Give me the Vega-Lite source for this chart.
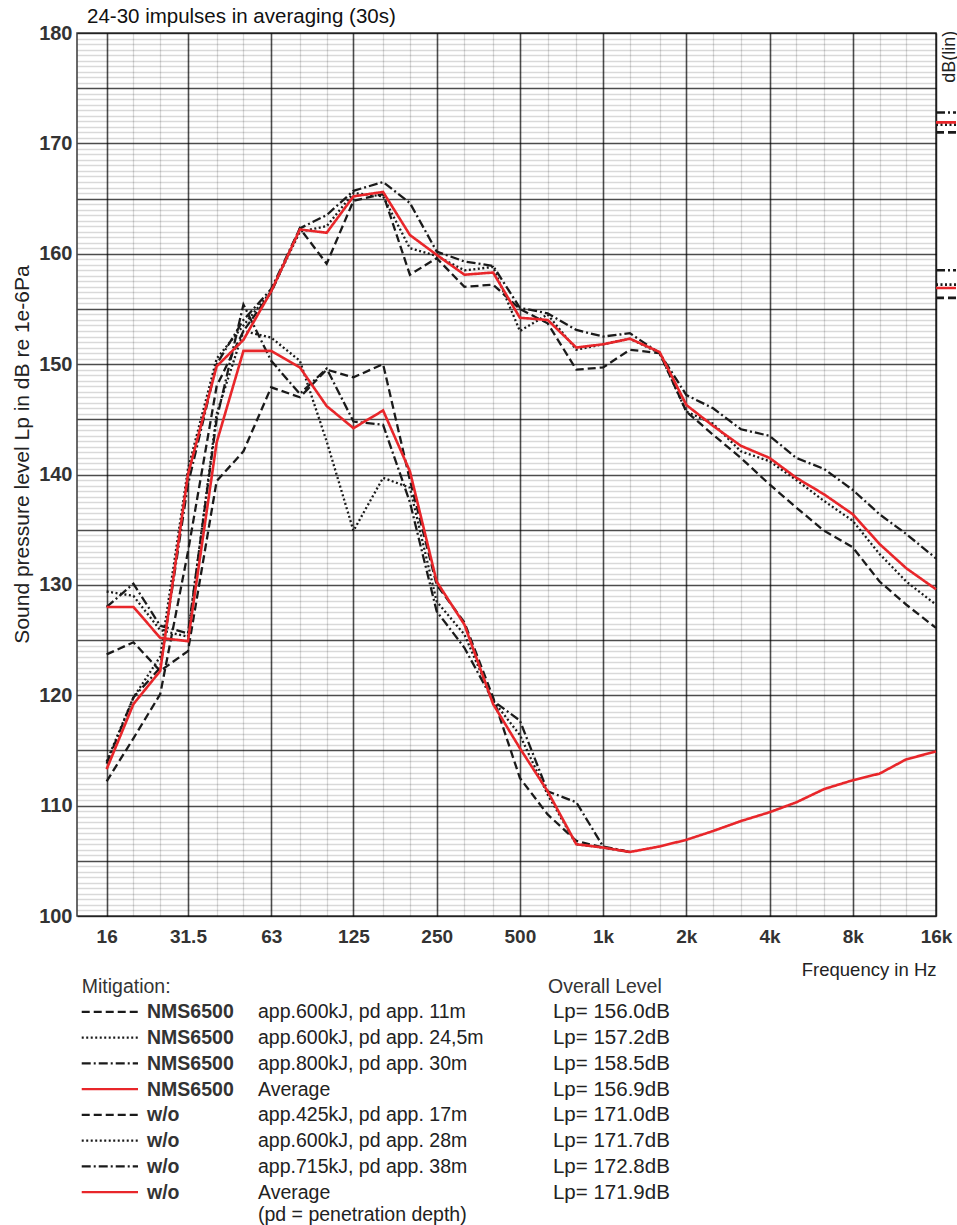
{
  "$schema": "https://vega.github.io/schema/vega-lite/v6.json",
  "background": "white",
  "padding": {"left": 10, "top": 5, "right": 0, "bottom": 0},
  "bounds": "flush",
  "spacing": 70,
  "config": {"font": "Liberation Sans", "view": {"stroke": null}},
  "datasets": {
    "curves": [
      {"f": 16, "N11": 123.7, "N245": 129.4, "N30": 128.0, "NAVG": 128.0, "W17": 112.2, "W28": 114.0, "W38": 113.8, "WAVG": 113.3},
      {"f": 20, "N11": 124.8, "N245": 129.0, "N30": 130.1, "NAVG": 128.0, "W17": 116.1, "W28": 119.8, "W38": 119.8, "WAVG": 119.2},
      {"f": 25, "N11": 122.2, "N245": 125.9, "N30": 126.3, "NAVG": 125.2, "W17": 120.1, "W28": 123.5, "W38": 122.5, "WAVG": 122.2},
      {"f": 31.5, "N11": 124.0, "N245": 125.3, "N30": 125.6, "NAVG": 124.9, "W17": 133.0, "W28": 140.5, "W38": 139.1, "WAVG": 140.0},
      {"f": 40, "N11": 139.4, "N245": 145.5, "N30": 145.0, "NAVG": 142.9, "W17": 148.0, "W28": 150.5, "W38": 150.0, "WAVG": 149.8},
      {"f": 50, "N11": 142.1, "N245": 153.0, "N30": 155.4, "NAVG": 151.2, "W17": 153.0, "W28": 153.5, "W38": 154.0, "WAVG": 152.2},
      {"f": 63, "N11": 147.9, "N245": 152.4, "N30": 150.3, "NAVG": 151.2, "W17": 156.5, "W28": 156.6, "W38": 156.8, "WAVG": 156.6},
      {"f": 80, "N11": 147.0, "N245": 150.3, "N30": 147.3, "NAVG": 149.7, "W17": 162.3, "W28": 162.0, "W38": 162.3, "WAVG": 162.2},
      {"f": 100, "N11": 149.5, "N245": 143.0, "N30": 149.6, "NAVG": 146.2, "W17": 159.1, "W28": 162.5, "W38": 163.5, "WAVG": 161.9},
      {"f": 125, "N11": 148.8, "N245": 134.9, "N30": 144.8, "NAVG": 144.2, "W17": 164.8, "W28": 165.5, "W38": 165.7, "WAVG": 165.2},
      {"f": 160, "N11": 150.0, "N245": 139.7, "N30": 144.5, "NAVG": 145.8, "W17": 165.4, "W28": 165.2, "W38": 166.5, "WAVG": 165.6},
      {"f": 200, "N11": 139.5, "N245": 138.8, "N30": 137.5, "NAVG": 140.3, "W17": 158.1, "W28": 160.5, "W38": 164.6, "WAVG": 161.7},
      {"f": 250, "N11": 130.0, "N245": 128.5, "N30": 127.6, "NAVG": 130.3, "W17": 159.6, "W28": 159.8, "W38": 160.2, "WAVG": 159.9},
      {"f": 315, "N11": 126.6, "N245": 125.5, "N30": 124.3, "NAVG": 126.4, "W17": 157.0, "W28": 158.5, "W38": 159.3, "WAVG": 158.1},
      {"f": 400, "N11": 119.8, "N245": 119.5, "N30": 119.5, "NAVG": 119.2, "W17": 157.2, "W28": 158.8, "W38": 158.9, "WAVG": 158.3},
      {"f": 500, "N11": 112.5, "N245": 116.4, "N30": 117.7, "NAVG": 115.2, "W17": 155.0, "W28": 153.0, "W38": 155.1, "WAVG": 154.2},
      {"f": 630, "N11": 109.2, "N245": 111.0, "N30": 111.3, "NAVG": 111.3, "W17": 153.7, "W28": 154.5, "W38": 154.6, "WAVG": 154.0},
      {"f": 800, "N11": 106.8, "N245": 106.5, "N30": 110.3, "NAVG": 106.5, "W17": 149.5, "W28": 151.3, "W38": 153.1, "WAVG": 151.5},
      {"f": 1000, "N11": 106.2, "N245": 106.2, "N30": 106.3, "NAVG": 106.2, "W17": 149.7, "W28": 151.8, "W38": 152.5, "WAVG": 151.8},
      {"f": 1250, "N11": 105.8, "N245": 105.8, "N30": 105.8, "NAVG": 105.8, "W17": 151.3, "W28": 152.3, "W38": 152.8, "WAVG": 152.3},
      {"f": 1600, "NAVG": 106.3, "W17": 151.0, "W28": 151.0, "W38": 151.0, "WAVG": 151.1},
      {"f": 2000, "NAVG": 106.9, "W17": 145.7, "W28": 145.7, "W38": 147.2, "WAVG": 146.3},
      {"f": 2500, "NAVG": 107.7, "W17": 143.6, "W28": 144.6, "W38": 146.0, "WAVG": 144.4},
      {"f": 3150, "NAVG": 108.6, "W17": 141.5, "W28": 142.1, "W38": 144.1, "WAVG": 142.6},
      {"f": 4000, "NAVG": 109.4, "W17": 139.1, "W28": 141.2, "W38": 143.5, "WAVG": 141.5},
      {"f": 5000, "NAVG": 110.3, "W17": 137.0, "W28": 139.5, "W38": 141.5, "WAVG": 139.7},
      {"f": 6300, "NAVG": 111.5, "W17": 134.9, "W28": 137.6, "W38": 140.5, "WAVG": 138.2},
      {"f": 8000, "NAVG": 112.3, "W17": 133.4, "W28": 135.8, "W38": 138.6, "WAVG": 136.4},
      {"f": 10000, "NAVG": 112.9, "W17": 130.3, "W28": 132.8, "W38": 136.4, "WAVG": 133.7},
      {"f": 12500, "NAVG": 114.2, "W17": 128.2, "W28": 130.3, "W38": 134.6, "WAVG": 131.5},
      {"f": 16000, "NAVG": 114.9, "W17": 126.1, "W28": 128.2, "W38": 132.4, "WAVG": 129.6}
    ],
    "levels": [
      {"series": "N11", "level": 156.0},
      {"series": "N245", "level": 157.2},
      {"series": "N30", "level": 158.5},
      {"series": "NAVG", "level": 156.9},
      {"series": "W17", "level": 171.0},
      {"series": "W28", "level": 171.7},
      {"series": "W38", "level": 172.8},
      {"series": "WAVG", "level": 171.9}
    ],
    "legendRows": [
      {"row": 1, "series": "N11", "group": "NMS6500", "desc": "app.600kJ, pd app. 11m", "lp": "Lp= 156.0dB"},
      {"row": 2, "series": "N245", "group": "NMS6500", "desc": "app.600kJ, pd app. 24,5m", "lp": "Lp= 157.2dB"},
      {"row": 3, "series": "N30", "group": "NMS6500", "desc": "app.800kJ, pd app. 30m", "lp": "Lp= 158.5dB"},
      {"row": 4, "series": "NAVG", "group": "NMS6500", "desc": "Average", "lp": "Lp= 156.9dB"},
      {"row": 5, "series": "W17", "group": "w/o", "desc": "app.425kJ, pd app. 17m", "lp": "Lp= 171.0dB"},
      {"row": 6, "series": "W28", "group": "w/o", "desc": "app.600kJ, pd app. 28m", "lp": "Lp= 171.7dB"},
      {"row": 7, "series": "W38", "group": "w/o", "desc": "app.715kJ, pd app. 38m", "lp": "Lp= 172.8dB"},
      {"row": 8, "series": "WAVG", "group": "w/o", "desc": ["Average", "(pd = penetration depth)"], "lp": "Lp= 171.9dB"}
    ]
  },
  "vconcat": [
    {
      "width": 859,
      "height": 883,
      "view": {"stroke": "#444", "strokeWidth": 1.6},
      "title": {"text": "24-30 impulses in averaging (30s)", "anchor": "start", "frame": "group", "fontSize": 20.5, "fontWeight": "normal", "color": "#111", "dx": 10, "offset": -20, "baseline": "alphabetic"},
      "data": {"name": "curves"},
      "layer": [
        {
          "transform": [{"fold": ["N11", "N245", "N30", "W17", "W28", "W38"], "as": ["series", "L"]}],
          "mark": {"type": "line", "strokeWidth": 2.3},
          "encoding": {
            "x": {
              "field": "f", "type": "quantitative",
              "scale": {"type": "log", "domain": [12.5, 16000], "nice": false},
              "axis": {
                "values": [16, 20, 25, 31.5, 40, 50, 63, 80, 100, 125, 160, 200, 250, 315, 400, 500, 630, 800, 1000, 1250, 1600, 2000, 2500, 3150, 4000, 5000, 6300, 8000, 10000, 12500, 16000],
                "labelExpr": "indexof([16,31.5,63,125,250,500],datum.value) >= 0 ? '' + datum.value : (indexof([1000,2000,4000,8000,16000],datum.value) >= 0 ? (datum.value/1000) + 'k' : '')",
                "labelOverlap": false,
                "labelFlush": false,
                "labelFontSize": 19,
                "labelFontWeight": "bold",
                "labelColor": "#333",
                "labelPadding": 11,
                "ticks": false,
                "domain": false,
                "gridColor": "#000",
                "gridOpacity": {"condition": {"test": "indexof([16,31.5,63,125,250,500,1000,2000,4000,8000,16000],datum.value) >= 0", "value": 0.7}, "value": 0.15},
                "gridWidth": {"condition": {"test": "indexof([16,31.5,63,125,250,500,1000,2000,4000,8000,16000],datum.value) >= 0", "value": 1.6}, "value": 1.3},
                "title": "Frequency in Hz",
                "titleAnchor": "end",
                "titleFontSize": 18.5,
                "titleFontWeight": "normal",
                "titleColor": "#222",
                "titlePadding": 14
              }
            },
            "y": {
              "field": "L", "type": "quantitative",
              "scale": {"domain": [100, 180], "nice": false, "zero": false},
              "axis": {
                "tickCount": 160,
                "labelExpr": "datum.value % 10 === 0 ? '' + datum.value : ''",
                "labelOverlap": false,
                "labelFontSize": 20,
                "labelFontWeight": "bold",
                "labelColor": "#333",
                "labelPadding": 5,
                "ticks": false,
                "domain": false,
                "gridColor": "#000",
                "gridOpacity": {"condition": {"test": "datum.value % 5 === 0", "value": 0.7}, "value": 0.15},
                "gridWidth": {"condition": {"test": "datum.value % 5 === 0", "value": 1.6}, "value": 1.3},
                "title": "Sound pressure level Lp in dB re 1e-6Pa",
                "titleFontSize": 21,
                "titleFontWeight": "normal",
                "titleColor": "#222",
                "titlePadding": 6,
                "titleY": 421
              }
            },
            "color": {"field": "series", "type": "nominal", "legend": null,
              "scale": {"domain": ["N11", "N245", "N30", "NAVG", "W17", "W28", "W38", "WAVG"], "range": ["#1a1a1a", "#1a1a1a", "#1a1a1a", "#e8262a", "#1a1a1a", "#1a1a1a", "#1a1a1a", "#e8262a"]}},
            "strokeDash": {"field": "series", "type": "nominal", "legend": null,
              "scale": {"domain": ["N11", "N245", "N30", "NAVG", "W17", "W28", "W38", "WAVG"], "range": [[8, 4], [2, 2.5], [9, 3, 2, 3], [1, 0], [8, 4], [2, 2.5], [9, 3, 2, 3], [1, 0]]}}
          }
        },
        {
          "transform": [{"fold": ["NAVG", "WAVG"], "as": ["series", "L"]}],
          "mark": {"type": "line", "strokeWidth": 2.6},
          "encoding": {
            "x": {"field": "f", "type": "quantitative"},
            "y": {"field": "L", "type": "quantitative"},
            "color": {"field": "series", "type": "nominal", "legend": null},
            "strokeDash": {"field": "series", "type": "nominal", "legend": null}
          }
        },
        {
          "data": {"name": "levels"},
          "mark": {"type": "rule", "strokeWidth": 2.6},
          "encoding": {
            "x": {"datum": 16000, "type": "quantitative"},
            "x2": {"datum": 18900},
            "y": {"field": "level", "type": "quantitative"},
            "color": {"field": "series", "type": "nominal", "legend": null},
            "strokeDash": {"field": "series", "type": "nominal", "legend": null}
          }
        },
        {
          "data": {"values": [{"t": "dB(lin)"}]},
          "mark": {"type": "text", "angle": 270, "align": "right", "baseline": "middle", "fontSize": 18, "color": "#222"},
          "encoding": {
            "x": {"datum": 17950, "type": "quantitative"},
            "y": {"datum": 180.2, "type": "quantitative"},
            "text": {"field": "t"}
          }
        }
      ]
    },
    {
      "width": 859,
      "height": 232,
      "view": {"stroke": null},
      "data": {"name": "legendRows"},
      "layer": [
        {
          "mark": {"type": "rule", "strokeWidth": 2.3},
          "encoding": {
            "x": {"datum": 0.55, "type": "quantitative", "scale": {"domain": [0, 100], "nice": false, "zero": false}, "axis": null},
            "x2": {"datum": 7.1},
            "y": {"field": "row", "type": "quantitative", "scale": {"domain": [0, 9], "reverse": true, "nice": false, "zero": false}, "axis": null},
            "color": {"field": "series", "type": "nominal", "legend": null,
              "scale": {"domain": ["N11", "N245", "N30", "NAVG", "W17", "W28", "W38", "WAVG"], "range": ["#1a1a1a", "#1a1a1a", "#1a1a1a", "#e8262a", "#1a1a1a", "#1a1a1a", "#1a1a1a", "#e8262a"]}},
            "strokeDash": {"field": "series", "type": "nominal", "legend": null,
              "scale": {"domain": ["N11", "N245", "N30", "NAVG", "W17", "W28", "W38", "WAVG"], "range": [[6, 3], [1.5, 1.5], [6, 2, 1.5, 2], [1, 0], [6, 3], [1.5, 1.5], [6, 2, 1.5, 2], [1, 0]]}}
          }
        },
        {
          "mark": {"type": "text", "align": "left", "baseline": "alphabetic", "dy": 6.5, "fontSize": 19.5, "fontWeight": "bold", "color": "#333"},
          "encoding": {
            "x": {"datum": 8.15, "type": "quantitative"},
            "y": {"field": "row", "type": "quantitative"},
            "text": {"field": "group"}
          }
        },
        {
          "mark": {"type": "text", "align": "left", "baseline": "alphabetic", "dy": 6.5, "fontSize": 19.5, "lineHeight": 22, "color": "#222"},
          "encoding": {
            "x": {"datum": 21.07, "type": "quantitative"},
            "y": {"field": "row", "type": "quantitative"},
            "text": {"field": "desc"}
          }
        },
        {
          "mark": {"type": "text", "align": "left", "baseline": "alphabetic", "dy": 6.5, "fontSize": 20.5, "color": "#222"},
          "encoding": {
            "x": {"datum": 55.41, "type": "quantitative"},
            "y": {"field": "row", "type": "quantitative"},
            "text": {"field": "lp"}
          }
        },
        {
          "data": {"values": [{"t": "Mitigation:"}]},
          "mark": {"type": "text", "align": "left", "baseline": "alphabetic", "dy": 6.5, "fontSize": 19.5, "color": "#333"},
          "encoding": {
            "x": {"datum": 0.55, "type": "quantitative"},
            "y": {"datum": 0, "type": "quantitative"},
            "text": {"field": "t"}
          }
        },
        {
          "data": {"values": [{"t": "Overall Level"}]},
          "mark": {"type": "text", "align": "left", "baseline": "alphabetic", "dy": 6.5, "fontSize": 19.5, "color": "#333"},
          "encoding": {
            "x": {"datum": 54.83, "type": "quantitative"},
            "y": {"datum": 0, "type": "quantitative"},
            "text": {"field": "t"}
          }
        }
      ]
    }
  ]
}
